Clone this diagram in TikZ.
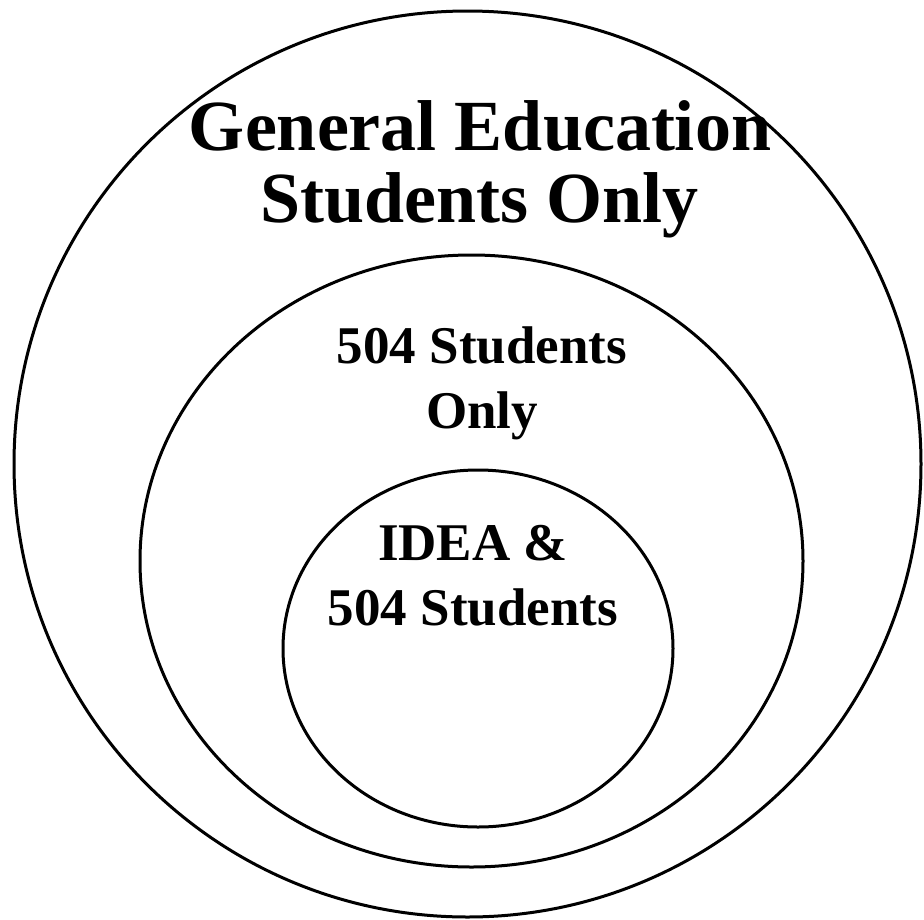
\documentclass[tikz,border=0pt]{standalone}
\usepackage{fontspec}
\setmainfont{Liberation Serif}
\usetikzlibrary{shapes.geometric}

\begin{document}
\begin{tikzpicture}[x=1pt,y=-1pt,
    ring/.style={shape=ellipse,draw,line width=3pt,inner sep=0pt},
    bigtext/.style={align=center,inner sep=0pt,font=\bfseries\fontsize{72}{72}\selectfont},
    smalltext/.style={align=center,inner sep=0pt,font=\bfseries\fontsize{53}{65}\selectfont}]
    \useasboundingbox (0,0) rectangle (924,919);
    % the three groups, one inside the other
    \node[ring,minimum width=907pt,minimum height=906pt] (gened) at (467.5,464) {};
    \node[ring,minimum width=663pt,minimum height=612pt] (only504) at (471.5,561) {};
    \node[ring,minimum width=390pt,minimum height=357pt] (idea) at (478,648.5) {};
    % labels (base is the last line)
    \node[bigtext,anchor=base] (genedlabel) at (480,222) {General Education\\Students Only};
    \node[smalltext,anchor=base] (only504label) at (482,428) {504 Students\\Only};
    \node[smalltext,anchor=base] (idealabel) at (473,625) {IDEA \&\\504 Students};
\end{tikzpicture}
\end{document}
